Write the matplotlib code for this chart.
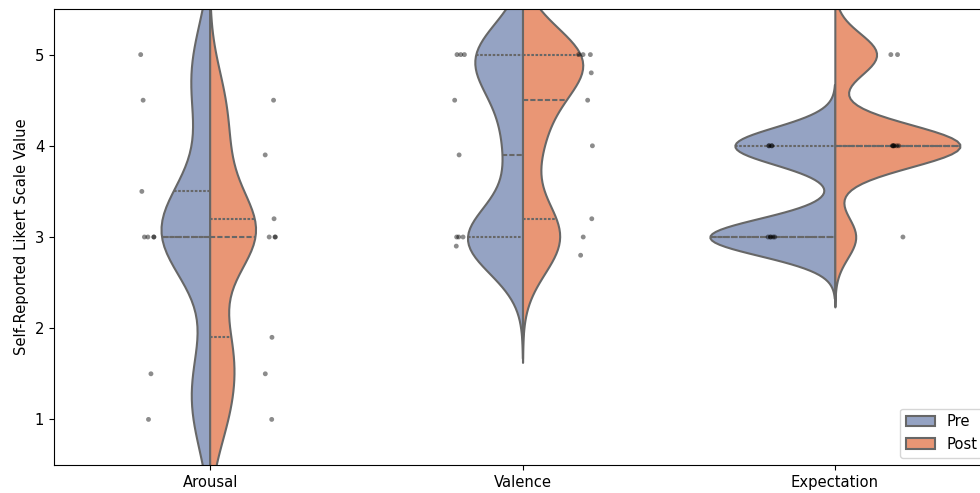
import numpy as np
import pandas as pd
import matplotlib
matplotlib.use("Agg")
import matplotlib.pyplot as plt
import seaborn as sns

# Likert ratings (9 participants, pre and post)
measures = ["Arousal", "Valence", "Expectation"]
arousal_pre = [1.0, 1.5, 3.0, 3.0, 3.0, 3.0, 3.5, 4.5, 5.0]
arousal_post = [1.0, 1.5, 1.9, 3.0, 3.0, 3.0, 3.2, 3.9, 4.5]
valence_pre = [2.9, 3.0, 3.0, 3.0, 3.9, 4.5, 5.0, 5.0, 5.0]
valence_post = [2.8, 3.0, 3.2, 4.0, 4.5, 4.8, 5.0, 5.0, 5.0]
expect_pre = [3.0, 3.0, 3.0, 3.0, 3.0, 4.0, 4.0, 4.0, 4.0]
expect_post = [3.0, 4.0, 4.0, 4.0, 4.0, 4.0, 4.0, 5.0, 5.0]

phases = ["Pre", "Post"]
colors = {"Pre": "#8da0cb", "Post": "#fc8d62"}

plt.rcParams["font.size"] = 10.6

rows = []
for m, pre, post in zip(measures,
                        [arousal_pre, valence_pre, expect_pre],
                        [arousal_post, valence_post, expect_post]):
    for v in pre:
        rows.append({"Measure": m, "Phase": "Pre", "Value": v})
    for v in post:
        rows.append({"Measure": m, "Phase": "Post", "Value": v})
df = pd.DataFrame(rows)

np.random.seed(3)
fig = plt.figure(figsize=(9.8, 4.93), dpi=100)
# axes runs past the right edge of the canvas, as in the original crop
ax = fig.add_axes([54 / 980, 28 / 493, 937 / 980, 456 / 493])

sns.violinplot(data=df, x="Measure", y="Value", hue="Phase", order=measures,
               hue_order=phases, palette=colors, split=True, inner="quart",
               bw_adjust=0.6, cut=3.3, linewidth=1.5, ax=ax)
sns.stripplot(data=df, x="Measure", y="Value", hue="Phase", order=measures,
              hue_order=phases, dodge=True, jitter=0.05,
              palette=["black", "black"], alpha=0.45, size=3.5, legend=False, ax=ax)

ax.set_ylim(0.5, 5.5)
ax.set_xlabel("")
ax.set_ylabel("Self-Reported Likert Scale Value")
handles, labels = ax.get_legend_handles_labels()
ax.legend(handles[:2], labels[:2], loc="lower right")

fig.savefig("out.png", dpi=100)
